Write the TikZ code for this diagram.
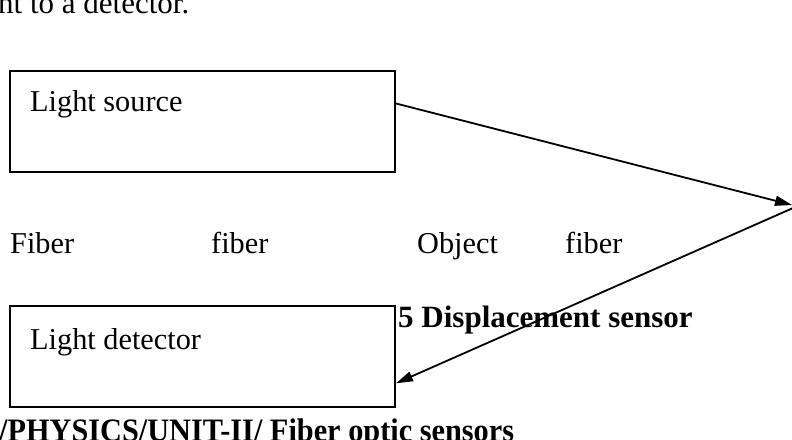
\documentclass[tikz,border=0pt]{standalone}
\usepackage{fontspec}
\setmainfont{Liberation Serif}
\usetikzlibrary{arrows.meta,calc}
\begin{document}
\begin{tikzpicture}[x=1pt,y=-1pt,
  box/.style={draw, line width=2pt, minimum width=385pt, minimum height=101pt, inner sep=0pt},
  txt/.style={anchor=base west, inner sep=0pt, font=\fontsize{30.3}{36}\selectfont},
  btxt/.style={anchor=base west, inner sep=0pt, font=\fontsize{31}{36}\selectfont\bfseries},
  conn/.style={line width=1.8pt, -{Triangle[length=17pt,width=10pt]}}]
\useasboundingbox (0,0) rectangle (792,439);
\clip (0,0) rectangle (792,439);
% top running text
\node[txt, font=\fontsize{31}{36}\selectfont] (toptext) at (-2,13) {nt to a detector.};
% boxes
\node[box] (src) at (202.5,121) {};
\node[txt] (srclabel) at (30,111) {Light source};
\node[box] (det) at (202.5,356.5) {};
\node[txt] (detlabel) at (30,349) {Light detector};
% middle labels
\node[txt] (fib1) at (10,253) {Fiber};
\node[txt] (fib2) at (211,253) {fiber};
\node[txt] (objl) at (417,253) {Object};
\node[txt] (fib3) at (565,253) {fiber};
% caption
\node[btxt] (cap) at (398,327) {5 Displacement sensor};
% footer
\node[anchor=base west, inner sep=0pt, font=\fontsize{30.3}{36}\selectfont\bfseries] (foot) at (-1,441) {\scalebox{1}[1.08]{/PHYSICS/UNIT-II/ Fiber optic sensors}};
% connectors
\coordinate (objin) at (792,205);
\coordinate (objout) at (793,208);
\draw[conn] ($(src.north east)!0.33!(src.south east)$) -- (objin);
\draw[conn] (objout) -- ($(det.north east)!0.76!(det.south east)$);
\end{tikzpicture}
\end{document}
